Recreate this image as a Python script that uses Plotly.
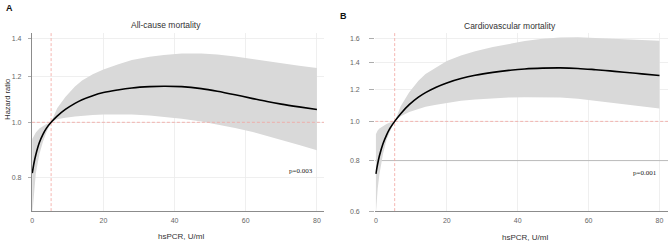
import math
import plotly.graph_objects as go

W, H = 669, 246

# ---------------- data ----------------
# Panel A: All-cause mortality
a_x = [0, 0.5, 1, 2, 3, 4, 5.3, 7, 9.3, 12, 14, 17, 20, 24, 28, 33, 37, 42, 47.5, 52, 57, 62, 66, 70, 75, 80]
a_hr = [0.815, 0.85, 0.878, 0.922, 0.953, 0.977, 1.0, 1.025, 1.053, 1.079, 1.095, 1.113, 1.127, 1.139,
        1.148, 1.154, 1.156, 1.154, 1.145, 1.133, 1.117, 1.1, 1.087, 1.076, 1.064, 1.053]
a_upper = [0.935, 0.95, 0.96, 0.975, 0.985, 0.993, 1.0, 1.058, 1.107, 1.155, 1.183, 1.213, 1.236, 1.262,
           1.284, 1.302, 1.311, 1.318, 1.318, 1.313, 1.303, 1.289, 1.277, 1.266, 1.255, 1.244]
a_lower = [0.69, 0.76, 0.815, 0.88, 0.925, 0.962, 1.0, 1.012, 1.019, 1.024, 1.027, 1.03, 1.032, 1.033,
           1.032, 1.028, 1.023, 1.014, 1.003, 0.99, 0.977, 0.962, 0.947, 0.932, 0.913, 0.894]

# Panel B: Cardiovascular mortality
b_x = [0, 0.5, 1, 2, 3, 4, 5.3, 7, 9.4, 12, 14, 17, 20, 24, 28, 33, 37.5, 42, 47, 52, 57, 62, 66, 70, 75, 80]
b_hr = [0.742, 0.785, 0.822, 0.88, 0.925, 0.962, 1.0, 1.045, 1.1, 1.148, 1.178, 1.215, 1.245, 1.276,
        1.3, 1.322, 1.337, 1.348, 1.354, 1.356, 1.352, 1.342, 1.333, 1.323, 1.311, 1.299]
b_upper = [0.93, 0.95, 0.96, 0.975, 0.985, 0.993, 1.0, 1.09, 1.18, 1.26, 1.31, 1.36, 1.41, 1.455,
           1.49, 1.527, 1.556, 1.58, 1.6, 1.612, 1.615, 1.61, 1.603, 1.597, 1.59, 1.582]
b_lower = [0.59, 0.68, 0.74, 0.83, 0.9, 0.945, 1.0, 1.03, 1.055, 1.075, 1.087, 1.1, 1.112, 1.124,
           1.133, 1.141, 1.146, 1.148, 1.148, 1.145, 1.138, 1.125, 1.115, 1.104, 1.09, 1.076]

ref_x = 5.3          # reference hsPCR value
ref_hr = 1.0
a_yticks = [0.8, 1.0, 1.2, 1.4]
b_yticks = [0.6, 0.8, 1.0, 1.2, 1.4, 1.6]
xticks = [0, 20, 40, 60, 80]
a_yrange = (0.70, 1.434)
b_yrange = (0.60, 1.658)
a_xrange = (-0.1, 82)
b_xrange = (-0.2, 82.4)

titles = ["All-cause mortality", "Cardiovascular mortality"]
xlabel = "hsPCR, U/ml"
ylabel = "Hazard ratio"
pvals = ["p=0.003", "p=0.001"]

# ---------------- figure ----------------
fig = go.Figure()
BAND = "#d9d9d9"
DASH = "#f2a5a0"
FONT = "Liberation Sans, Arial, sans-serif"

def add_panel(xs, hr, lo, up, xa, ya, xr, yr):
    fig.add_trace(go.Scatter(x=xs + xs[::-1], y=up + lo[::-1], fill="toself", fillcolor=BAND,
                             line=dict(width=0), mode="lines", xaxis=xa, yaxis=ya, hoverinfo="skip"))
    fig.add_trace(go.Scatter(x=[xr[0], xr[1]], y=[ref_hr, ref_hr], mode="lines",
                             line=dict(color=DASH, width=0.8, dash="3px,2px"), xaxis=xa, yaxis=ya))
    fig.add_trace(go.Scatter(x=[ref_x, ref_x], y=[yr[0], yr[1]], mode="lines",
                             line=dict(color=DASH, width=0.8, dash="3px,2px"), xaxis=xa, yaxis=ya))
    fig.add_trace(go.Scatter(x=xs, y=hr, mode="lines", line=dict(color="black", width=1.6, shape="spline"),
                             xaxis=xa, yaxis=ya))

add_panel(a_x, a_hr, a_lower, a_upper, "x", "y", a_xrange, a_yrange)
# darker reference line at 0.8 in panel B
fig.add_trace(go.Scatter(x=[b_xrange[0], b_xrange[1]], y=[0.8, 0.8], mode="lines",
                         line=dict(color="#b5b5b5", width=0.9), xaxis="x2", yaxis="y2"))
add_panel(b_x, b_hr, b_lower, b_upper, "x2", "y2", b_xrange, b_yrange)

ydom = [(H - 213.7) / H, (H - 33) / H]
grid = "#ebebeb"
common_x = dict(tickvals=xticks, ticktext=[str(v) for v in xticks], showgrid=True, gridcolor=grid,
                gridwidth=0.8, zeroline=False, showline=True, linecolor="#8c8c8c", linewidth=1,
                ticks="", tickfont=dict(size=7, color="#666", family=FONT), ticklabelstandoff=3)
fig.update_layout(
    width=W, height=H, margin=dict(l=0, r=0, t=0, b=0),
    paper_bgcolor="white", plot_bgcolor="white", showlegend=False, hovermode=False,
    xaxis=dict(domain=[30 / W, 323 / W], range=list(a_xrange), anchor="y", **common_x),
    xaxis2=dict(domain=[374.3 / W, 668 / W], range=list(b_xrange), anchor="y2", **common_x),
    yaxis=dict(domain=ydom, type="log", range=[math.log10(a_yrange[0]), math.log10(a_yrange[1])],
               tickvals=a_yticks, ticktext=["0.8", "1.0", "1.2", "1.4"], anchor="x",
               showgrid=True, gridcolor=grid, gridwidth=0.8, zeroline=False,
               showline=True, linecolor="#8c8c8c", linewidth=1,
               ticks="outside", ticklen=3, tickcolor="#999", tickwidth=0.8,
               tickfont=dict(size=7, color="#666", family=FONT), ticklabelstandoff=5),
    yaxis2=dict(domain=ydom, type="log", range=[math.log10(b_yrange[0]), math.log10(b_yrange[1])],
                tickvals=b_yticks, ticktext=["0.6", "0.8", "1.0", "1.2", "1.4", "1.6"], anchor="x2",
                showgrid=True, gridcolor=grid, gridwidth=0.8, zeroline=False, showline=False,
                ticks="outside", ticklen=5, tickcolor="#999", tickwidth=0.8,
                tickfont=dict(size=7, color="#666", family=FONT), ticklabelstandoff=8),
)

def ann(text, px, py, size=9, color="#333", bold=False, family=FONT, angle=0, xanchor="center"):
    fig.add_annotation(text=("<b>%s</b>" % text) if bold else text, x=px / W, y=1 - py / H,
                       xref="paper", yref="paper", showarrow=False, textangle=angle,
                       xanchor=xanchor, yanchor="middle",
                       font=dict(size=size, color=color, family=family))

ann("A", 8, 8.5, size=9, color="#111", bold=True)
ann("B", 343, 16, size=9, color="#111", bold=True)
ann(titles[0], 164, 25, size=8.5)
ann(titles[1], 510, 26.5, size=8.5)
ann(xlabel, 180, 239, size=8)
ann(xlabel, 525, 240, size=8)
ann(ylabel, 6, 100, size=7.5, angle=-90)
ann(pvals[0], 300, 173, size=7, color="#222", family="Liberation Serif, serif")
ann(pvals[1], 645, 175, size=7, color="#222", family="Liberation Serif, serif")

fig.write_html("out.html", config={"displayModeBar": False, "staticPlot": True},
               post_script="document.body.style.margin='0';document.body.style.overflow='hidden';")
